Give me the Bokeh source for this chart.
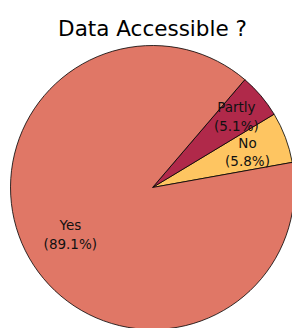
import math
from bokeh.plotting import figure
from bokeh.models import Range1d, ColumnDataSource
from bokeh.core.properties import value
from bokeh.embed import file_html
from bokeh.resources import INLINE

# Data
labels = ["No", "Partly", "Yes"]
percents = [5.8, 5.1, 89.1]
colors = ["#FEC561", "#B0294A", "#E07766"]
title_text = "Data Accessible ?"

# Style
start_deg = 10.2
radius = 142
label_dist = [0.715, 0.774, 0.667]

p = figure(width=292, height=328, output_backend="svg", toolbar_location=None,
           x_range=Range1d(-152, 140), y_range=Range1d(-141, 187),
           min_border=0)
p.axis.visible = False
p.grid.visible = False
p.outline_line_color = None
p.background_fill_color = "white"

total = sum(percents)
starts, ends, lx, ly, texts = [], [], [], [], []
a = math.radians(start_deg)
for lab, pc, d in zip(labels, percents, label_dist):
    span = 2 * math.pi * pc / total
    starts.append(a)
    ends.append(a + span)
    mid = a + span / 2
    lx.append(d * radius * math.cos(mid))
    ly.append(d * radius * math.sin(mid))
    texts.append(f"{lab}\n({pc:.1f}%)")
    a += span

src = ColumnDataSource(dict(start=starts, end=ends, color=colors,
                            lx=lx, ly=ly, text=texts))
p.wedge(x=0, y=0, radius=radius, start_angle="start", end_angle="end",
        direction="anticlock", fill_color="color", line_color="black",
        line_width=0.8, source=src)
p.text(x="lx", y="ly", text="text", source=src, text_align="center",
       text_baseline="middle", text_font=value("DejaVu Sans"),
       text_font_size="13.5px", text_color="#111111", text_line_height=1.15)

p.text(x=[0], y=[159.3], text=[title_text], text_align="center",
       text_baseline="alphabetic", text_font=value("DejaVu Sans"),
       text_font_size="21.5px", text_color="black")

open("out.html", "w").write(file_html(p, INLINE))
